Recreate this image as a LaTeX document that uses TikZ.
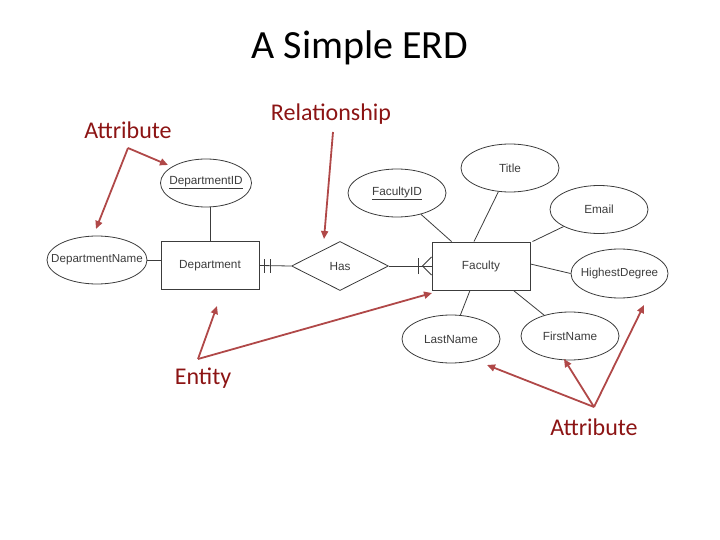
\documentclass[tikz,border=0pt]{standalone}
\usepackage{fontspec}
\setmainfont{Carlito}
\newfontfamily\arialf{Liberation Sans}
\usetikzlibrary{shapes.geometric,arrows.meta}
\definecolor{arrowred}{RGB}{176,72,72}
\definecolor{labelred}{RGB}{140,20,20}
\definecolor{ergray}{RGB}{60,60,60}
\newcommand\zwtxt[1]{\makebox[0pt]{#1}}
\tikzset{
  attr/.style={ellipse,draw=ergray,line width=0.8pt,minimum width=98pt,minimum height=48pt,inner sep=0pt,font=\arialf\fontsize{11.8}{13}\selectfont,text=ergray},
  ent/.style={rectangle,draw=ergray,line width=0.9pt,minimum width=98pt,minimum height=48pt,inner sep=0pt,font=\arialf\fontsize{11.8}{13}\selectfont,text=ergray},
  rel/.style={diamond,draw=ergray,line width=0.8pt,minimum width=97pt,minimum height=49pt,aspect=2,inner sep=0pt,font=\arialf\fontsize{11.8}{13}\selectfont,text=ergray},
  link/.style={draw=ergray,line width=0.8pt},
  callout/.style={draw=arrowred,line width=1.8pt,-{Triangle[length=8pt,width=7pt]}},
  lbl/.style={text=labelred,font=\fontsize{24}{28}\selectfont,inner sep=0pt}
}
\begin{document}
\begin{tikzpicture}[x=1pt,y=-1pt]
\useasboundingbox (0,0) rectangle (720,540);
\node[inner sep=0pt,font=\fontsize{40}{44}\selectfont] (title) at (360,48) {A Simple ERD};

% entities and relationship
\node[ent] (dept) at (210,265.5) {Department};
\node[ent] (fac) at (481,266) {Faculty};
\node[rel] (has) at (340,266) {Has};

% attributes
\node[attr,minimum width=91pt] (deptid) at (206,183) {\zwtxt{\underline{DepartmentID}}};
\node[attr,minimum width=100pt,font=\arialf\fontsize{11.6}{13}\selectfont] (deptname) at (97,260) {\zwtxt{DepartmentName}};
\node[attr] (facid) at (397,193) {\zwtxt{\underline{FacultyID}}};
\node[attr] (titlea) at (510,168) {\zwtxt{Title}};
\node[attr] (email) at (599,209.5) {\zwtxt{Email}};
\node[attr,minimum width=97pt,minimum height=49pt,font=\arialf\fontsize{11.6}{13}\selectfont] (hdeg) at (619.5,273.5) {\zwtxt{HighestDegree}};
\node[attr] (lname) at (451,339) {\zwtxt{LastName}};
\node[attr] (fname) at (570,336) {\zwtxt{FirstName}};

% attribute links
\draw[link] (dept.north) -- (dept.north |- deptid.south);
\draw[link] (deptname.east) -- (dept.west |- deptname.east);
\draw[link] (facid) -- ([xshift=20pt]fac.north west);
\draw[link] (titlea) -- ([xshift=-7pt]fac.north);
\draw[link] (email) -- ([xshift=2pt]fac.north east);
\draw[link] ([yshift=2pt]fac.east) -- (hdeg.west);
\draw[link] (lname) -- ([xshift=-11pt]fac.south);
\draw[link] (fname) -- ([xshift=-17pt]fac.south east);

% relationship links with notation
\draw[link] (dept.east) -- (has.west);
\coordinate (b1t) at ([xshift=5pt,yshift=-7pt]dept.east);
\coordinate (b1b) at ([xshift=5pt,yshift=7pt]dept.east);
\coordinate (b2t) at ([xshift=11pt,yshift=-7pt]dept.east);
\coordinate (b2b) at ([xshift=11pt,yshift=7pt]dept.east);
\draw[link] (b1t) -- (b1b);
\draw[link] (b2t) -- (b2b);
\draw[link] (has.east) -- (fac.west);
\coordinate (cbt) at ([xshift=-13pt,yshift=-8pt]fac.west);
\coordinate (cbb) at ([xshift=-13pt,yshift=8pt]fac.west);
\coordinate (cfp) at ([xshift=-9pt]fac.west);
\coordinate (cft) at ([yshift=-9pt]fac.west);
\coordinate (cfb) at ([yshift=9pt]fac.west);
\draw[link] (cbt) -- (cbb);
\draw[link] (cft) -- (cfp) -- (cfb);

% callout labels
\node[lbl] (lattr1) at (128,130) {Attribute};
\node[lbl] (lrel) at (331,114) {Relationship};
\node[lbl] (lent) at (203,378) {Entity};
\node[lbl] (lattr2) at (594,427) {Attribute};

% callout arrows
\coordinate (pa1) at (128,148);
\coordinate (ta1) at (168,165);
\coordinate (ta2) at (96,229);
\draw[callout] (pa1) -- (ta1);
\draw[callout] (pa1) -- (ta2);
\coordinate (pr) at (333,132);
\coordinate (tr) at (324,239);
\draw[callout] (pr) -- (tr);
\coordinate (pe) at (198,359);
\coordinate (te1) at (217,306);
\coordinate (te2) at (432,293);
\draw[callout] (pe) -- (te1);
\draw[callout] (pe) -- (te2);
\coordinate (pa2) at (594,407);
\coordinate (tb1) at (487,365);
\coordinate (tb2) at (564,359);
\coordinate (tb3) at (644,305);
\draw[callout] (pa2) -- (tb1);
\draw[callout] (pa2) -- (tb2);
\draw[callout] (pa2) -- (tb3);
\end{tikzpicture}
\end{document}
